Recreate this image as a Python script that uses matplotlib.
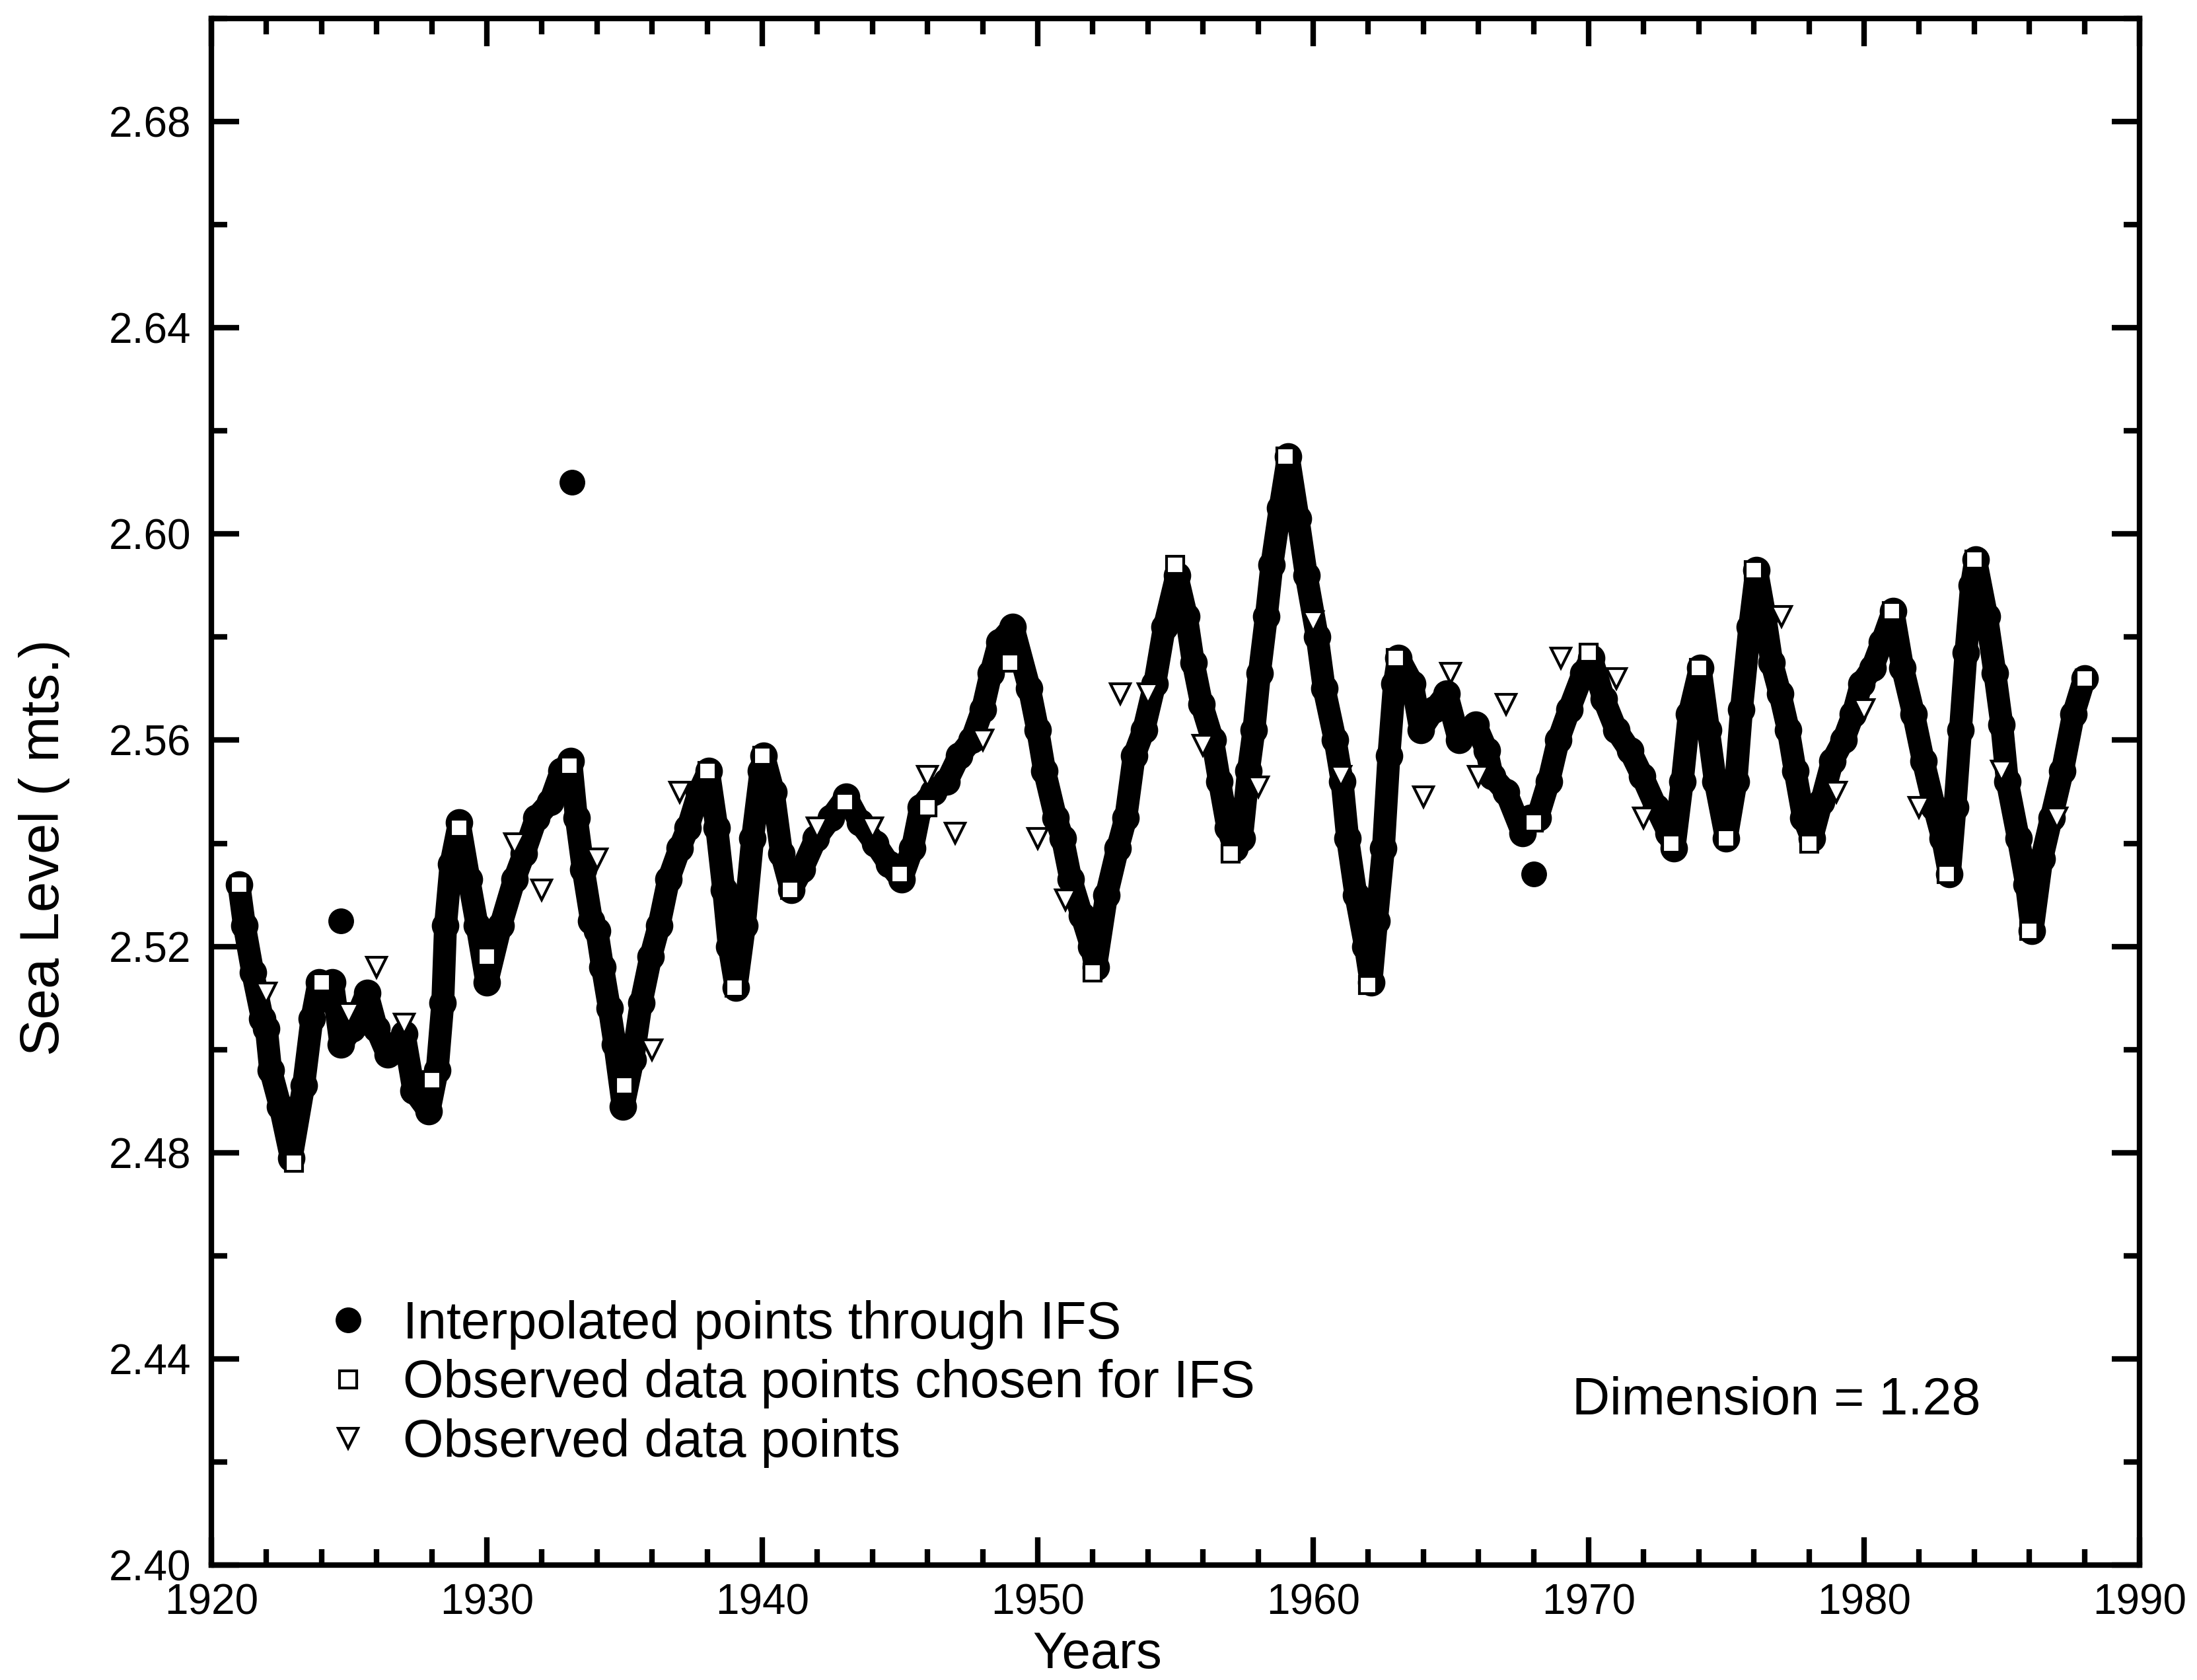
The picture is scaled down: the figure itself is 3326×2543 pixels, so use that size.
import numpy as np
import matplotlib
matplotlib.use("Agg")
import matplotlib.pyplot as plt
from matplotlib.ticker import MultipleLocator, FormatStrFormatter
from matplotlib.lines import Line2D

plt.rcParams['font.family'] = ['Liberation Sans', 'DejaVu Sans']

# ---------------- data ----------------
chosen_years = [1921, 1923, 1924, 1928, 1929, 1930, 1933, 1935, 1938, 1939,
                1940, 1941, 1943, 1945, 1946, 1949, 1952, 1955, 1957, 1959,
                1962, 1963, 1968, 1970, 1973, 1974, 1975, 1976, 1978, 1981,
                1983, 1984, 1986, 1988]
chosen_level = [2.532, 2.478, 2.513, 2.494, 2.543, 2.518, 2.555, 2.493, 2.554, 2.512,
                2.557, 2.531, 2.548, 2.534, 2.547, 2.575, 2.515, 2.594, 2.538, 2.615,
                2.5125, 2.576, 2.544, 2.577, 2.540, 2.574, 2.541, 2.593, 2.540, 2.585,
                2.534, 2.595, 2.523, 2.572]

obs_years = [1922, 1925, 1926, 1927, 1931, 1932, 1934, 1936, 1937, 1942,
             1944, 1946, 1947, 1948, 1950, 1951, 1953, 1954, 1956, 1958,
             1960, 1961, 1964, 1965, 1966, 1967, 1969, 1971, 1972, 1977,
             1979, 1980, 1982, 1985, 1987]
obs_level = [2.511, 2.507, 2.516, 2.505, 2.540, 2.531, 2.537, 2.500, 2.550, 2.543,
             2.543, 2.553, 2.542, 2.560, 2.541, 2.529, 2.569, 2.569, 2.559, 2.551,
             2.583, 2.553, 2.549, 2.573, 2.553, 2.567, 2.576, 2.572, 2.545, 2.584,
             2.550, 2.566, 2.547, 2.554, 2.545]

interp_years = [
    1921.0, 1921.2, 1921.5, 1921.85, 1922.0, 1922.15, 1922.5, 1922.9, 1923.35, 1923.65,
    1923.9, 1924.4, 1924.7, 1925.1, 1925.65, 1926.0, 1926.4, 1927.0, 1927.35, 1927.9,
    1928.2, 1928.4, 1928.5, 1928.7, 1929.0, 1929.35, 1929.65, 1930.0, 1930.5, 1931.0,
    1931.35, 1931.8, 1932.3, 1932.7, 1933.05, 1933.25, 1933.5, 1933.8, 1934.0, 1934.2,
    1934.45, 1934.65, 1934.95, 1935.3, 1935.6, 1935.95, 1936.25, 1936.6, 1937.0, 1937.3,
    1937.7, 1938.05, 1938.35, 1938.6, 1938.8, 1939.05, 1939.35, 1939.65, 1939.95, 1940.05,
    1940.4, 1940.7, 1941.05, 1941.45, 1941.95, 1942.5, 1943.05, 1943.55, 1944.1, 1944.6,
    1945.05, 1945.45, 1945.75, 1946.2, 1946.7, 1947.15, 1947.6, 1948.0, 1948.3, 1948.6,
    1949.1, 1949.7, 1950.0, 1950.25, 1950.65, 1950.9, 1951.2, 1951.6, 1951.95, 1952.1,
    1952.5, 1952.9, 1953.2, 1953.5, 1953.85, 1954.25, 1954.6, 1955.05, 1955.4, 1955.65,
    1955.95, 1956.35, 1956.6, 1956.9, 1957.15, 1957.4, 1957.65, 1957.85, 1958.05, 1958.3,
    1958.5, 1958.8, 1959.1, 1959.45, 1959.75, 1960.15, 1960.4, 1960.8, 1961.05, 1961.25,
    1961.55, 1961.9, 1962.1, 1962.3, 1962.55, 1962.75, 1962.95, 1963.1, 1963.6, 1963.9,
    1964.4, 1964.85, 1965.3, 1965.9, 1966.3, 1966.5, 1967.0, 1967.6, 1967.9, 1968.15,
    1968.55, 1968.9, 1969.3, 1969.8, 1970.1, 1970.55, 1971.0, 1971.5, 1971.95, 1972.45,
    1972.9, 1973.1, 1973.4, 1973.65, 1974.05, 1974.35, 1974.6, 1975.0, 1975.35, 1975.55,
    1975.85, 1976.1, 1976.4, 1976.65, 1976.95, 1977.25, 1977.5, 1977.8, 1978.1, 1978.45,
    1978.85, 1979.25, 1979.6, 1979.9, 1980.3, 1980.65, 1981.05, 1981.4, 1981.8, 1982.15,
    1982.55, 1982.85, 1983.1, 1983.3, 1983.5, 1983.7, 1983.9, 1984.05, 1984.45, 1984.75,
    1985.0, 1985.2, 1985.6, 1985.9, 1986.1, 1986.45, 1986.8, 1987.2, 1987.6, 1988.0]
interp_level = [
    2.532, 2.524, 2.515, 2.506, 2.504, 2.496, 2.489, 2.479, 2.493, 2.506,
    2.513, 2.513, 2.501, 2.504, 2.511, 2.504, 2.499, 2.503, 2.492, 2.488,
    2.496, 2.509, 2.524, 2.536, 2.544, 2.533, 2.524, 2.513, 2.524, 2.533,
    2.538, 2.545, 2.548, 2.554, 2.556, 2.545, 2.535, 2.525, 2.523, 2.516,
    2.508, 2.501, 2.489, 2.498, 2.509, 2.518, 2.524, 2.533, 2.539, 2.543,
    2.550, 2.554, 2.543, 2.531, 2.520, 2.512, 2.524, 2.541, 2.554, 2.557,
    2.550, 2.538, 2.531, 2.535, 2.541, 2.545, 2.549, 2.544, 2.540, 2.536,
    2.533, 2.539, 2.547, 2.550, 2.552, 2.557, 2.560, 2.566, 2.573, 2.579,
    2.582, 2.570, 2.562, 2.554, 2.545, 2.541, 2.533, 2.526, 2.520, 2.516,
    2.530, 2.539, 2.545, 2.557, 2.562, 2.571, 2.582, 2.592, 2.584, 2.575,
    2.567, 2.560, 2.552, 2.543, 2.539, 2.541, 2.554, 2.562, 2.573, 2.584,
    2.594, 2.605, 2.615, 2.603, 2.592, 2.580, 2.570, 2.560, 2.552, 2.541,
    2.530, 2.520, 2.513, 2.525, 2.539, 2.557, 2.571, 2.576, 2.571, 2.562,
    2.566, 2.569, 2.560, 2.563, 2.558, 2.553, 2.550, 2.542, 2.545, 2.545,
    2.552, 2.560, 2.566, 2.573, 2.576, 2.568, 2.562, 2.558, 2.553, 2.547,
    2.542, 2.539, 2.552, 2.565, 2.574, 2.562, 2.552, 2.541, 2.552, 2.566,
    2.582, 2.593, 2.584, 2.575, 2.569, 2.562, 2.554, 2.545, 2.541, 2.548,
    2.556, 2.560, 2.565, 2.571, 2.574, 2.579, 2.585, 2.574, 2.565, 2.556,
    2.547, 2.541, 2.534, 2.547, 2.562, 2.577, 2.590, 2.595, 2.584, 2.573,
    2.563, 2.552, 2.541, 2.532, 2.523, 2.537, 2.545, 2.554, 2.565, 2.572]

outlier_years = [1924.7, 1933.1, 1968.0]
outlier_level = [2.525, 2.610, 2.534]

x_ticks = [1920, 1930, 1940, 1950, 1960, 1970, 1980, 1990]
y_ticks = [2.40, 2.44, 2.48, 2.52, 2.56, 2.60, 2.64, 2.68]

legend_labels = ["Interpolated points through IFS",
                 "Observed data points chosen for IFS",
                 "Observed data points"]

# ---------------- figure ----------------
W, H = 3326, 2543
fig = plt.figure(figsize=(W / 100, H / 100), dpi=100)
ax = fig.add_axes([320 / W, 174 / H, 2919 / W, 2341 / H])

ax.plot(interp_years, interp_level, '-', color='black', lw=25,
        solid_capstyle='round', solid_joinstyle='round', zorder=2)
ax.plot(interp_years, interp_level, 'o', color='black', ms=29, zorder=2)
ax.plot(outlier_years, outlier_level, 'o', color='black', ms=27, ls='none', zorder=2)
ax.plot(chosen_years, chosen_level, 's', ls='none', ms=19, mfc='white',
        mec='black', mew=3, zorder=4)
ax.plot(obs_years, obs_level, 'v', ls='none', ms=22, mfc='white',
        mec='black', mew=3, zorder=5)

ax.set_xlim(1920, 1990)
ax.set_ylim(2.40, 2.70)
ax.set_xticks(x_ticks)
ax.set_yticks(y_ticks)
ax.xaxis.set_minor_locator(MultipleLocator(2))
ax.yaxis.set_minor_locator(MultipleLocator(0.02))
ax.yaxis.set_major_formatter(FormatStrFormatter('%.2f'))

ax.tick_params(which='both', direction='in', top=True, right=True,
               width=6, labelsize=46, color='black')
ax.tick_params(which='major', length=30)
ax.tick_params(which='minor', length=17)
ax.tick_params(axis='y', which='major', pad=22)
ax.tick_params(axis='x', which='major', pad=20)
for s in ax.spines.values():
    s.set_linewidth(6)

fig.text(1661 / W, 1 - 2505 / H, "Years", fontsize=56, ha='center', va='center')
fig.text(67 / W, 1 - 1283 / H, "Sea Level ( mts.)", fontsize=60,
         rotation=90, ha='center', va='center')

fig.text(2380 / W, 1 - 2121 / H, "Dimension = 1.28", fontsize=57,
         ha='left', va='center')

handles = [Line2D([], [], marker='o', ls='none', color='black', ms=27),
           Line2D([], [], marker='s', ls='none', mfc='white', mec='black', ms=19, mew=3),
           Line2D([], [], marker='v', ls='none', mfc='white', mec='black', ms=22, mew=3)]
ax.legend(handles, legend_labels, loc='upper left',
          bbox_to_anchor=(487 / W, 1 - 1968 / H), bbox_transform=fig.transFigure,
          fontsize=57, frameon=False, handlelength=1.0, handletextpad=0.55,
          labelspacing=0.18, borderpad=0, borderaxespad=0)

fig.savefig("out.png", dpi=100)
